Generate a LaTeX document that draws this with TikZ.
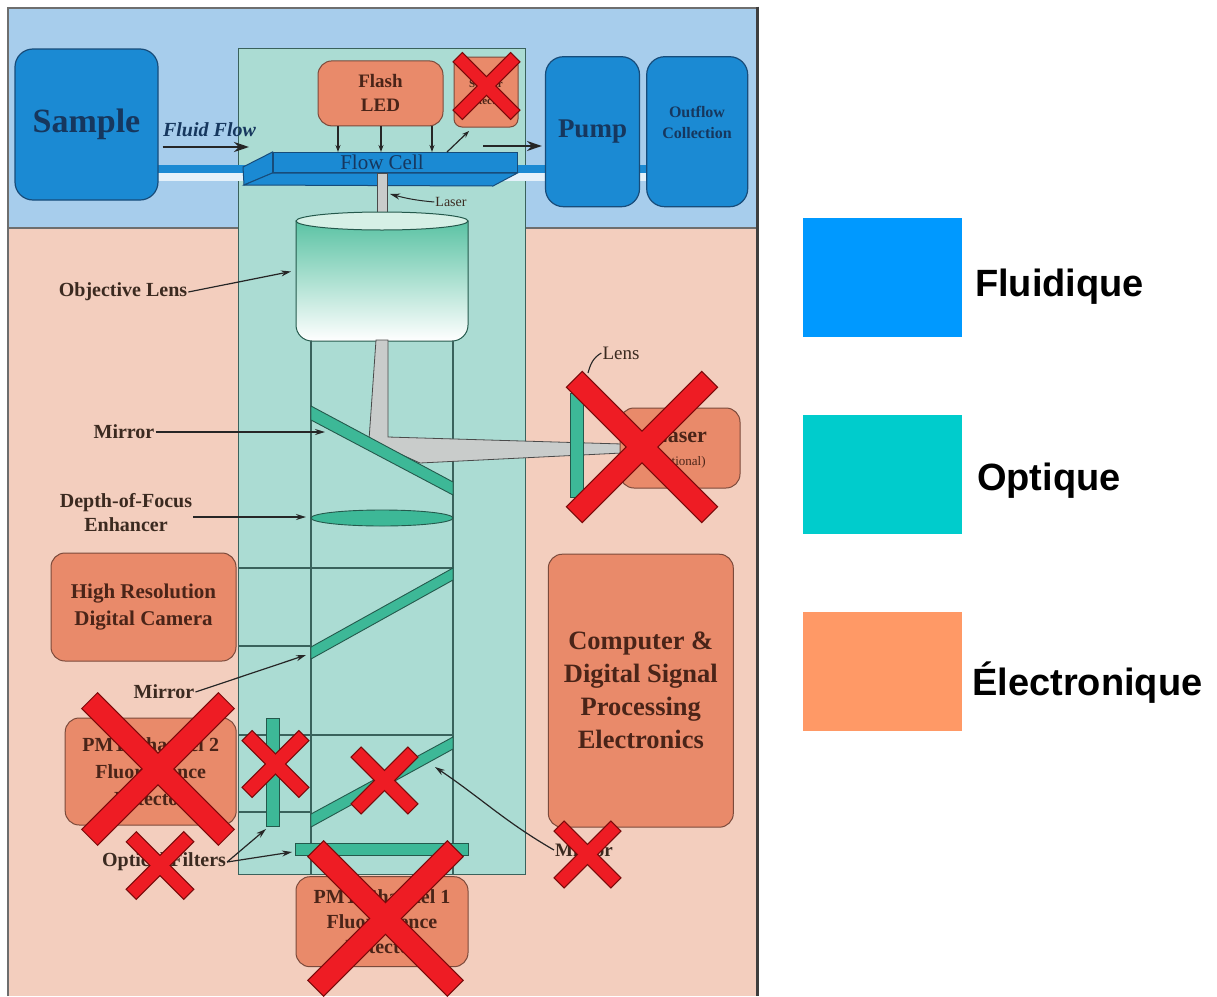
\documentclass[tikz,border=0pt]{standalone}
\usepackage{fontspec}
\setmainfont{Liberation Serif}
\newfontfamily\legendfont{Liberation Sans}
\usetikzlibrary{arrows.meta}

\definecolor{bgBlue}{HTML}{A7CDEC}
\definecolor{bgSalmon}{HTML}{F3CEBE}
\definecolor{frameGray}{HTML}{6E6E6E}
\definecolor{frameDark}{HTML}{3E3E3E}
\definecolor{colFill}{HTML}{ABDCD3}
\definecolor{colEdge}{HTML}{3A625C}
\definecolor{fluidFill}{HTML}{1B8AD3}
\definecolor{fluidEdge}{HTML}{174C7A}
\definecolor{fluidText}{HTML}{16375E}
\definecolor{stripeWhite}{HTML}{E4F1FA}
\definecolor{elecFill}{HTML}{E98A6A}
\definecolor{elecEdge}{HTML}{7B4A3B}
\definecolor{elecText}{HTML}{4A2418}
\definecolor{opticFill}{HTML}{3DB897}
\definecolor{opticEdge}{HTML}{24594C}
\definecolor{lensTop}{HTML}{5BC3A4}
\definecolor{lensCap}{HTML}{D6F0E6}
\definecolor{beamFill}{HTML}{C9CCCB}
\definecolor{beamEdge}{HTML}{4A4A4A}
\definecolor{txtDark}{HTML}{3B2A20}
\definecolor{xFill}{HTML}{EE1C24}
\definecolor{xEdge}{HTML}{7A0A0A}
\definecolor{legBlue}{HTML}{0099FF}
\definecolor{legTeal}{HTML}{00CCCC}
\definecolor{legOrange}{HTML}{FF9966}

\newcommand{\setfs}[2]{\fontsize{#1}{#2}\selectfont}

% red strike mark: centre x, centre y, half-length of an arm, half-width of an arm
\newcommand{\strikemark}[4]{%
  \begin{scope}[shift={(#1,#2)}]
    \draw[xedge,rotate=45] (-#3,-#4) rectangle (#3,#4);
    \draw[xedge,rotate=-45] (-#3,-#4) rectangle (#3,#4);
    \fill[xfill,rotate=45] (-#3,-#4) rectangle (#3,#4);
    \fill[xfill,rotate=-45] (-#3,-#4) rectangle (#3,#4);
  \end{scope}}

\tikzset{
  frameline/.style={draw=frameGray, line width=1.4pt},
  colbox/.style={draw=colEdge, fill=colFill, line width=1pt},
  innerline/.style={draw=colEdge, line width=1.1pt},
  fluidbox/.style={draw=fluidEdge, fill=fluidFill, line width=1.2pt, rounded corners=18pt,
    text=fluidText, font=\bfseries, align=center, inner sep=0pt},
  fluidtxt/.style={text=fluidText, align=center, inner sep=0pt},
  flowface/.style={draw=fluidEdge, fill=fluidFill, line width=1pt, inner sep=0pt},
  elecbox/.style={draw=elecEdge, fill=elecFill, line width=1pt, rounded corners=14pt,
    text=elecText, align=center, inner sep=0pt},
  optic/.style={draw=opticEdge, fill=opticFill, line width=0.9pt},
  opticnode/.style={optic, inner sep=0pt},
  beam/.style={draw=beamEdge, fill=beamFill, line width=0.8pt},
  lbl/.style={text=txtDark, inner sep=1pt, align=center, font=\bfseries\setfs{20}{24}},
  arr/.style={-{Stealth[length=10pt,width=6pt]}, line width=1.2pt, draw=black!85},
  ledarr/.style={-{Stealth[length=7pt,width=5pt]}, line width=1.2pt, draw=black!85},
  bigarr/.style={-{Stealth[length=15pt,width=10pt]}, line width=2.8pt, draw=black!85},
  leader/.style={line width=1.1pt, draw=black!85},
  xedge/.style={draw=xEdge, line width=2.4pt},
  xfill/.style={fill=xFill},
  legsq/.style={minimum width=159pt, minimum height=119pt, inner sep=0pt},
  legtxt/.style={font=\legendfont\bfseries\setfs{38}{44}, inner sep=0pt, text=black}
}

\begin{document}
\begin{tikzpicture}[x=1pt,y=-1pt]
\useasboundingbox (0,0) rectangle (1217,996);
\fill[white] (0,0) rectangle (1217,996);

% ---------- panels ----------
\fill[bgSalmon] (8,228) rectangle (757,996);
\fill[bgBlue] (8,8) rectangle (757,228);
\draw[frameline] (8,996) -- (8,8) -- (757,8);
\draw[frameline] (8,228) -- (757,228);
\draw[draw=frameDark, line width=3pt] (757,6.5) -- (757,996);

% ---------- optical column ----------
\draw[colbox] (238,48) rectangle (525,874);

% ---------- fluid line ----------
\fill[fluidFill] (150,165) rectangle (700,173);
\fill[stripeWhite] (150,173) rectangle (700,181);

% ---------- flow cell ----------
\node[flowface, minimum width=244pt, minimum height=20pt] (flowcell) at (395,162.5) {};
\filldraw[flowface] (243,167) -- (flowcell.north west) -- (flowcell.south west) -- (244,185) -- cycle;
\filldraw[flowface] (244,185) -- (flowcell.south west) -- (flowcell.south east) -- (493,186) -- cycle;
\node[fluidtxt, font=\setfs{21}{24}] (flowtxt) at (382,162) {Flow Cell};

% laser spot between flow cell and objective
\filldraw[beam] (377,173) -- (387,173) -- (387,216) -- (377,216) -- cycle;

% ---------- objective lens ----------
\shade[top color=lensTop, bottom color=white, draw=opticEdge, line width=1pt]
  (296,221) -- (296,325) to[out=-90,in=180] (312,341) -- (452,341)
  to[out=0,in=-90] (468,325) -- (468,221) -- cycle;
\filldraw[fill=lensCap, draw=opticEdge, line width=1pt] (382,221) ellipse [x radius=86pt, y radius=9pt];

% ---------- inner light path ----------
\draw[innerline] (311,341) -- (311,874);
\draw[innerline] (453,341) -- (453,874);
\draw[innerline] (238,568) -- (453,568);
\draw[innerline] (238,646) -- (311,646);
\draw[innerline] (238,735) -- (453,735);
\draw[innerline] (238,812) -- (311,812);

% beam from objective and side laser
\filldraw[beam] (376,340) -- (388,340) -- (388,437) -- (622,444) -- (622,453)
  -- (420,463) -- (369,440) -- cycle;

% ---------- optics ----------
\filldraw[optic] (311,406) -- (453,482) -- (453,495) -- (311,420) -- cycle;
\filldraw[optic] (382,518) ellipse [x radius=71pt, y radius=8pt];
\filldraw[optic] (311,647) -- (453,568) -- (453,580) -- (311,659) -- cycle;
\filldraw[optic] (311,814) -- (453,737) -- (453,749) -- (311,827) -- cycle;
\node[opticnode, minimum width=13pt, minimum height=108pt] (filtV) at (272.5,772) {};
\node[opticnode, minimum width=173pt, minimum height=12pt] (filtH) at (381.5,849) {};
\node[opticnode, minimum width=13pt, minimum height=104pt] (lensR) at (576.5,445) {};

% ---------- fluidic boxes ----------
\node[fluidbox, minimum width=143pt, minimum height=151pt, font=\bfseries\setfs{34}{40}] (sample) at (86.5,124.5) {Sample};
\node[fluidbox, minimum width=94pt, minimum height=150pt, font=\bfseries\setfs{27}{32}] (pump) at (592.5,131.7) {Pump};
\node[fluidbox, minimum width=101pt, minimum height=150pt] (outflow) at (697.2,131.7) {};
\node[fluidtxt, font=\bfseries\setfs{16}{21}] (outflowtxt) at (697,122.5) {Outflow\\Collection};

% ---------- electronic boxes ----------
\node[elecbox, minimum width=125pt, minimum height=65pt, font=\bfseries\setfs{19}{24}] (flash) at (380.5,93.4) {Flash\\LED};
\node[elecbox, rounded corners=8pt, minimum width=64pt, minimum height=70pt, font=\bfseries\setfs{11}{17}] (scatter) at (486,92) {Scatter\\Detector};
\node[elecbox, minimum width=120pt, minimum height=80pt, font=\setfs{13}{23}] (laserbox) at (680,448)
  {{\bfseries\setfs{22}{23}Laser}\\(optional)};
\node[elecbox, minimum width=185pt, minimum height=108pt, font=\bfseries\setfs{21}{27}] (camera) at (143.5,607) {High Resolution\\Digital Camera};
\node[elecbox, minimum width=171pt, minimum height=107pt, font=\bfseries\setfs{20}{27}] (pm2) at (150.7,771.5) {PMT Channel 2\\Fluorescence\\Detector};
\node[elecbox, minimum width=172pt, minimum height=90pt, font=\bfseries\setfs{20}{25}] (pm1) at (382,921.7) {PMT Channel 1\\Fluorescence\\Detector};
\node[elecbox, minimum width=185pt, minimum height=273pt, font=\bfseries\setfs{26.5}{33}] (computer) at (640.8,690.7) {Computer \&\\Digital Signal\\Processing\\Electronics};

% ---------- flow arrows ----------
\node[fluidtxt, font=\bfseries\itshape\setfs{20}{24}] (fflow) at (209.5,130) {Fluid Flow};
\coordinate (ffend) at (249,147);
\draw[bigarr] ([xshift=4pt]sample.east |- ffend) -- (ffend);
\coordinate (outstart) at (483,146);
\draw[bigarr] (outstart) -- ([xshift=-3pt]pump.west |- outstart);

\coordinate (led1) at (338,0);
\coordinate (led2) at (381,0);
\coordinate (led3) at (432,0);
\draw[ledarr] (flash.south -| led1) -- (flowcell.north -| led1);
\draw[ledarr] (flash.south -| led2) -- (flowcell.north -| led2);
\draw[ledarr] (flash.south -| led3) -- (flowcell.north -| led3);
\coordinate (scbase) at (447,0);
\coordinate (sctip) at (469,131);
\draw[ledarr] (flowcell.north -| scbase) -- (sctip);

% ---------- labels and pointers ----------
\node[lbl, font=\setfs{14}{16}] (laserlbl) at (451,202) {Laser};
\coordinate (lasertip) at (390,194);
\draw[arr, line width=1pt] (laserlbl.west) to[out=175,in=-15] (lasertip);

\node[lbl] (objlbl) at (123,292) {Objective Lens};
\coordinate (objtip) at (291,271.5);
\draw[arr] (objlbl.east) -- (objtip);

\node[lbl] (mir1) at (124,432) {Mirror};
\coordinate (mir1tip) at (325,432);
\draw[arr] (mir1.east) -- (mir1tip);

\node[lbl] (doflbl) at (126,513) {Depth-of-Focus\\Enhancer};
\coordinate (doftip) at (306,517);
\draw[arr] (doflbl.east |- doftip) -- (doftip);

\node[lbl] (mir2) at (164,692) {Mirror};
\coordinate (mir2tip) at (306,655);
\draw[arr] (mir2.east) -- (mir2tip);

\node[lbl] (filtlbl) at (164,862) {Optical Filters};
\coordinate (f1tip) at (266,829);
\coordinate (f2tip) at (292,852);
\draw[arr] (filtlbl.east) -- (f1tip);
\draw[arr] (filtlbl.east) -- (f2tip);

\node[lbl, font=\bfseries\setfs{19}{22}] (mir3) at (584,850) {Mirror};
\coordinate (mir3tip) at (435,767);
\draw[arr] (mir3.west) to[out=150,in=-34] (mir3tip);

\node[lbl, font=\setfs{19}{22}] (lenslbl) at (621,353) {Lens};
\coordinate (lenstip) at (588,373);
\draw[leader] (lenslbl.west) to[out=-150,in=75] (lenstip);

% ---------- strike marks ----------
\strikemark{486.5}{86}{40}{6}
\strikemark{642}{447}{95}{10.5}
\strikemark{158}{769}{96}{10.5}
\strikemark{275.5}{764}{39.5}{6.5}
\strikemark{384.5}{780.5}{39.5}{6.5}
\strikemark{160}{865.5}{40}{6.5}
\strikemark{587.5}{854.5}{39.5}{6.5}
\strikemark{385.5}{918.5}{98}{10.5}

% ---------- legend ----------
\node[legsq, fill=legBlue] (legF) at (882.5,277.5) {};
\node[legsq, fill=legTeal] (legO) at (882.5,474) {};
\node[legsq, fill=legOrange] (legE) at (882.5,671) {};
\node[legtxt, anchor=base west] (txtF) at (975,296) {Fluidique};
\node[legtxt, anchor=base west] (txtO) at (977,490) {Optique};
\node[legtxt, anchor=base west] (txtE) at (972,695) {Électronique};
\end{tikzpicture}
\end{document}
